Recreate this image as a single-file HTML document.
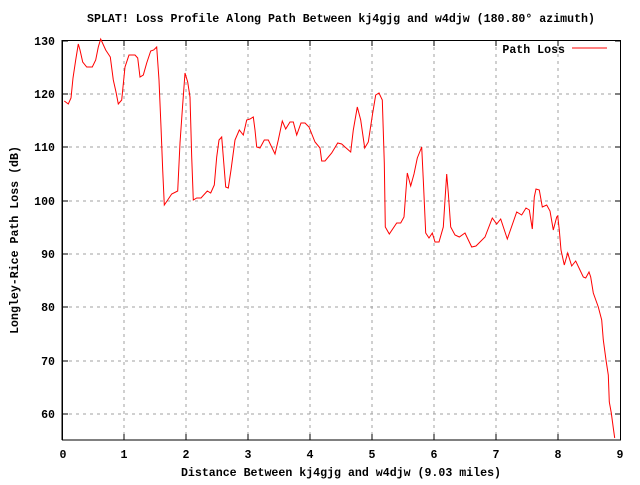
<!DOCTYPE html>
<html><head><style>body{margin:0;background:#fff}svg text{font-family:"Liberation Mono","DejaVu Sans Mono",monospace;font-size:11.6px;font-weight:bold;fill:#000}</style></head><body>
<svg width="640" height="480" xmlns="http://www.w3.org/2000/svg">
<rect width="640" height="480" fill="#fff"/>
<g stroke="#a0a0a0" stroke-dasharray="3,4" stroke-width="1">
<path d="M124,40V440M186,40V440M248,40V440M310,40V440M372,40V440M434,40V440M496,40V440M558,40V440"/>
<path d="M62,94H621M62,147H621M62,201H621M62,254H621M62,307H621M62,361H621M62,414H621"/>
</g>
<g stroke="#000" stroke-width="1">
<path d="M62,40V440M124,440v-6M186,440v-6M248,440v-6M310,440v-6M372,440v-6M434,440v-6M496,440v-6M558,440v-6M124,40v6M186,40v6M248,40v6M310,40v6M372,40v6M434,40v6M496,40v6M558,40v6"/>
<path d="M62,41h6M62,94h6M62,147h6M62,201h6M62,254h6M62,307h6M62,361h6M62,414h6M621,41h-6M621,94h-6M621,147h-6M621,201h-6M621,254h-6M621,307h-6M621,361h-6M621,414h-6"/>
<rect x="62.5" y="40.5" width="558" height="399.5" fill="none"/>
</g>
<g text-anchor="end">
<text x="55" y="45">130</text><text x="55" y="98">120</text><text x="55" y="151">110</text><text x="55" y="205">100</text><text x="55" y="258">90</text><text x="55" y="311">80</text><text x="55" y="365">70</text><text x="55" y="418">60</text>
</g>
<g text-anchor="middle">
<text x="63" y="458">0</text><text x="124" y="458">1</text><text x="186" y="458">2</text><text x="248" y="458">3</text><text x="310" y="458">4</text><text x="372" y="458">5</text><text x="434" y="458">6</text><text x="496" y="458">7</text><text x="558" y="458">8</text><text x="620" y="458">9</text>
<text x="341" y="22">SPLAT! Loss Profile Along Path Between kj4gjg and w4djw (180.80° azimuth)</text>
<text x="341" y="476">Distance Between kj4gjg and w4djw (9.03 miles)</text>
<text transform="translate(18,240) rotate(-90)">Longley-Rice Path Loss (dB)</text>
</g>
<text x="565" y="53" text-anchor="end">Path Loss</text>
<path d="M572,48H607" stroke="#f00" stroke-width="1"/>
<polyline fill="none" stroke="#f00" stroke-width="1" points="64.3,101 68.3,104 71,98 73,78 75.7,60 78.3,44 80,50 82.7,62 86.7,67 92.3,67 95.7,60 98.3,47 100.7,39 105.7,50 110.3,57 113.3,80 116,92 118.3,104 121.7,100 125,67 129,55 135,55 137.7,58 140,77 143.3,75 146.7,63 150.7,51 153.7,50 156.7,47 159,80 161,127 162.7,170 164.3,205 167.7,200 171.7,194 177.7,191 180,143 182.3,110 185,73 187.7,82 190,97 191.7,157 193.3,200 196.7,198 201,198 207.3,191 210.7,193 214.3,185 216.7,157 219,140 221.7,137 223.3,157 225.7,187 228.3,188 231,170 235,140 239.3,130 243.3,135 246.7,120 250,119 253.3,117 255,130 256.7,147 260,148 264.3,140 268.3,140 275,154 278.3,140 282.3,121 285.7,129 290,122 293.3,122 296.7,135 301,123 305,123 309,127 315,142 320,148 321.7,161 325,161 331.7,153 337.7,143 341.7,144 345,147 350.7,152 353.3,130 357.3,107 360.7,120 364.7,148 368.3,142 372.7,113 375.7,95 379,93 382.3,100 384.3,163 385.3,227 389.3,234 396.7,223 400.7,223 404,217 406,190 407.3,173 410.7,186 414,174 417.3,158 421.7,147 423.3,180 425.7,233 429,238 432.3,233 435,242 439,242 443.3,227 445,200 446.7,174 448.3,193 450.7,227 455,235 459.3,237 465,233 471.7,247 476,246 485,237 492.3,218 496.7,224 500.7,219 507.3,239 516.7,212 521.7,215 526,208 529.3,210 532.3,229 534.3,197 536,189 539.3,190 542.3,207 546.7,205 550,211 553.3,230 556.7,217 557.7,216 559.3,230 561,250 564.3,265 567.7,253 571.7,266 575.7,261 583.3,277 585.7,278 589,272 590.7,277 593.3,293 598.3,307 601.7,320 603.3,340 606,360 608.3,375 609.3,402 611.3,413 613.3,428 614.7,438"/>
</svg>
</body></html>
